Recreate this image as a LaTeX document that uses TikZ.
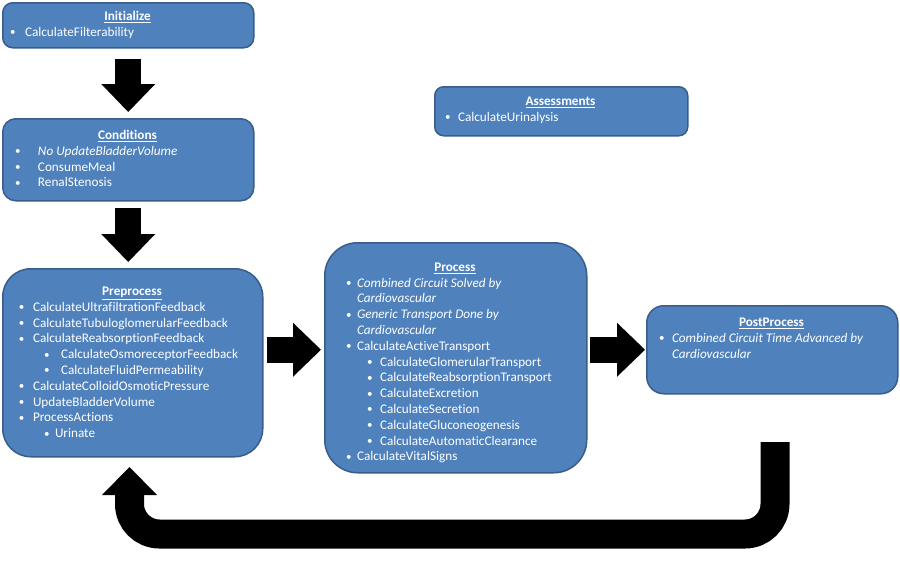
\documentclass[tikz,border=0pt]{standalone}
\usepackage{fontspec}
\setmainfont{Carlito}[Ligatures={NoCommon}]
\usetikzlibrary{arrows.meta}
\definecolor{boxfill}{HTML}{4F81BD}
\definecolor{boxline}{HTML}{385D8A}
\newcommand\blt{\raisebox{0.6pt}{\fontsize{11}{11}\selectfont\textbullet}}
\newcommand\ttlline[1]{\hbox to\hsize{\hfil\textbf{\underline{#1}}\hfil}}
\newcommand\itmline[3]{\hbox{\rlap{\hspace*{#1}\blt}\hspace*{#2}#3}}
\newcommand\contline[2]{\hbox{\hspace*{#1}#2}}
\newcommand\txtblock[2]{\vtop{\hsize=#1\baselineskip=15.8pt\lineskip=0pt\lineskiplimit=-100pt #2}}
\tikzset{
  box/.style={draw=boxline, fill=boxfill, line width=1.5pt, inner sep=0pt, anchor=north west},
  txt/.style={anchor=base west, inner sep=0pt, outer sep=0pt, text=white, font=\fontsize{13.2}{15.8}\selectfont},
  barrow/.style={draw=black, line width=26pt, -{Triangle[length=28pt,width=54pt,line width=0pt]}},
  uarrow/.style={draw=black, line width=29pt, rounded corners=30pt, -{Triangle[length=28pt,width=55pt,line width=0pt]}}
}
\begin{document}
\begin{tikzpicture}[x=1pt,y=-1pt]
\fill[white] (0,0) rectangle (900,560);
\useasboundingbox (0,0) rectangle (900,560);

% boxes
\node[box, minimum width=251pt, minimum height=45pt, rounded corners=10pt] (init) at (2,2) {};
\node[box, minimum width=251pt, minimum height=82pt, rounded corners=13pt] (cond) at (2,118) {};
\node[box, minimum width=260pt, minimum height=188pt, rounded corners=28pt] (pre) at (2,268) {};
\node[box, minimum width=262pt, minimum height=230pt, rounded corners=33pt] (proc) at (324,242) {};
\node[box, minimum width=251pt, minimum height=88pt, rounded corners=17pt] (post) at (646,305) {};
\node[box, minimum width=253pt, minimum height=49pt, rounded corners=9pt] (assess) at (434,86) {};

% texts
\node[txt] (initT) at (2,20.5) {\txtblock{251pt}{%
  \ttlline{Initialize}
  \itmline{8pt}{23pt}{CalculateFilterability}}};
\node[txt] (condT) at (2,139.5) {\txtblock{251pt}{%
  \ttlline{Conditions}
  \itmline{13pt}{36pt}{\itshape No UpdateBladderVolume}
  \itmline{13pt}{36pt}{ConsumeMeal}
  \itmline{13pt}{36pt}{RenalStenosis}}};
\node[txt] (preT) at (2,295.5) {\txtblock{260pt}{%
  \ttlline{Preprocess}
  \itmline{17pt}{31pt}{CalculateUltrafiltrationFeedback}
  \itmline{17pt}{31pt}{CalculateTubuloglomerularFeedback}
  \itmline{17pt}{31pt}{CalculateReabsorptionFeedback}
  \itmline{42pt}{59pt}{CalculateOsmoreceptorFeedback}
  \itmline{42pt}{59pt}{CalculateFluidPermeability}
  \itmline{17pt}{31pt}{CalculateColloidOsmoticPressure}
  \itmline{17pt}{31pt}{UpdateBladderVolume}
  \itmline{17pt}{31pt}{ProcessActions}
  \itmline{42pt}{53pt}{Urinate}}};
\node[txt] (procT) at (324,271.2) {\txtblock{262pt}{%
  \ttlline{Process}
  \itmline{22pt}{33pt}{\itshape Combined Circuit Solved by}
  \contline{33pt}{\itshape Cardiovascular}
  \itmline{22pt}{33pt}{\itshape Generic Transport Done by}
  \contline{33pt}{\itshape Cardiovascular}
  \itmline{22pt}{33pt}{CalculateActiveTransport}
  \itmline{43pt}{56pt}{CalculateGlomerularTransport}
  \itmline{43pt}{56pt}{CalculateReabsorptionTransport}
  \itmline{43pt}{56pt}{CalculateExcretion}
  \itmline{43pt}{56pt}{CalculateSecretion}
  \itmline{43pt}{56pt}{CalculateGluconeogenesis}
  \itmline{43pt}{56pt}{CalculateAutomaticClearance}
  \itmline{22pt}{33pt}{CalculateVitalSigns}}};
\node[txt] (postT) at (646,326.5) {\txtblock{251pt}{%
  \ttlline{PostProcess}
  \itmline{13pt}{26pt}{\itshape Combined Circuit Time Advanced by}
  \contline{26pt}{\itshape Cardiovascular}}};
\node[txt] (assessT) at (434,105.5) {\txtblock{253pt}{%
  \ttlline{Assessments}
  \itmline{11pt}{24pt}{CalculateUrinalysis}}};

% block arrows
\draw[barrow] ([yshift=-10pt]init.south) -- ([yshift=6pt]cond.north -| init.south);
\draw[barrow] ([yshift=-6pt]cond.south) -- ([yshift=6pt]pre.north -| cond.south);
\draw[barrow] ([xshift=3pt]pre.east |- post.west) -- ([xshift=-3pt]proc.west |- post.west);
\draw[barrow] ([xshift=2pt]proc.east |- post.west) -- ([xshift=-1pt]post.west);

% return arrow
\coordinate (ustart) at (775,442);
\coordinate (ubot) at (129.5,534);
\coordinate (uend) at (129.5,467);
\draw[uarrow] (ustart) |- (ubot) -- (uend);
\end{tikzpicture}
\end{document}
